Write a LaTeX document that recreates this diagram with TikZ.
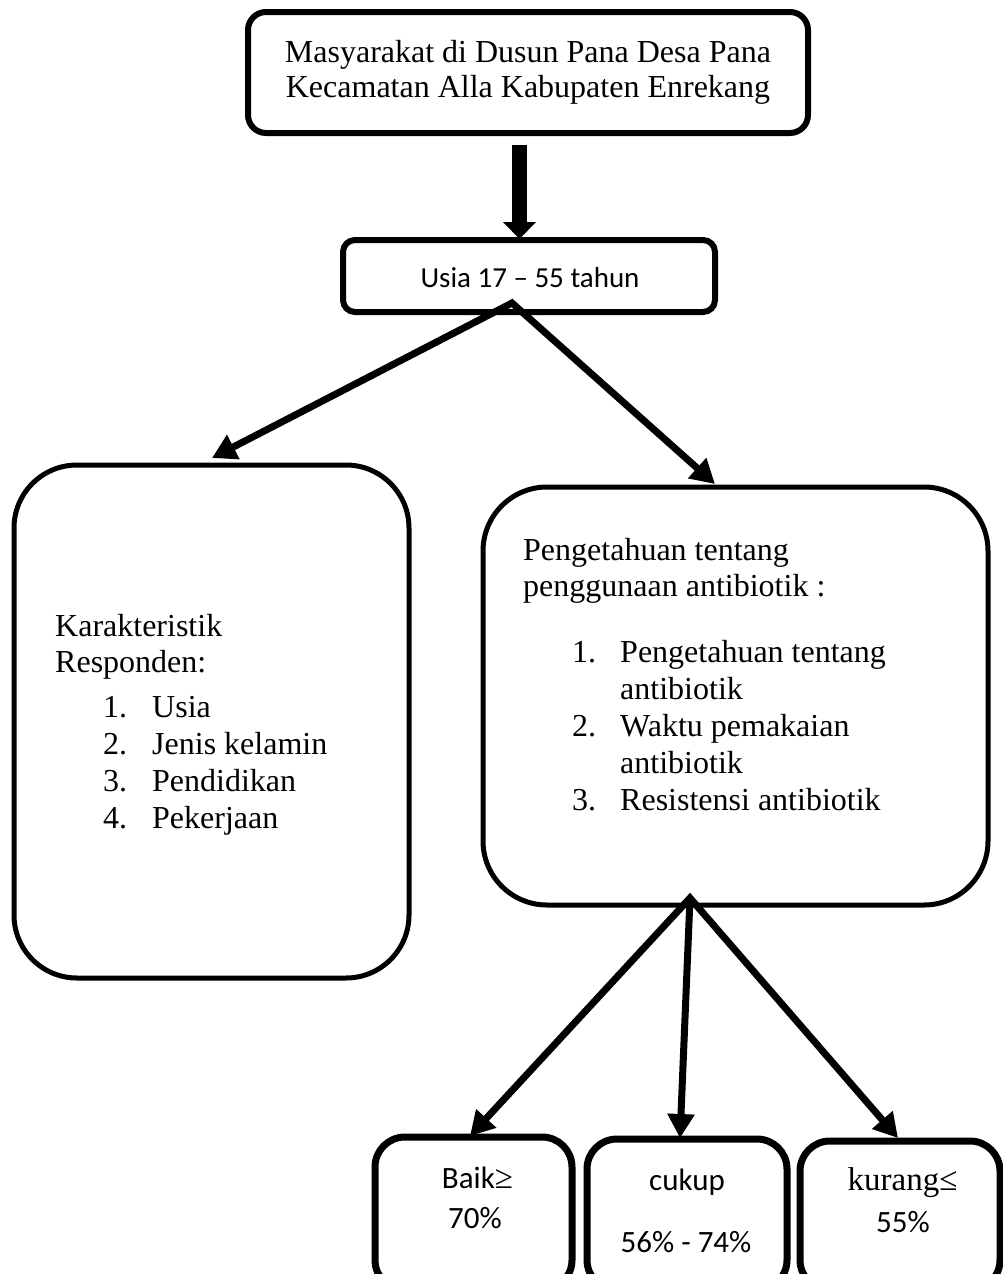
\documentclass[tikz,border=0pt]{standalone}
\usepackage{fontspec}
\setmainfont{Liberation Serif}
\newfontfamily\calibri{Carlito}
\newfontfamily\relfont{Liberation Serif}
\usetikzlibrary{arrows.meta}

\begin{document}
\begin{tikzpicture}[x=1pt,y=-1pt,
  frame/.style={draw=black, line width=#1, inner sep=0pt, outer sep=0pt},
  serif/.style={font=\fontsize{32}{37}\selectfont, inner sep=0pt},
  sans/.style={font=\calibri\fontsize{31}{37}\selectfont, inner sep=0pt},
  bigarrow/.style={line width=15pt, -{Triangle[length=17pt,width=32pt]}},
  link/.style={line width=7pt, line join=miter,
    {Triangle[length=24pt,width=26pt]}-{Triangle[length=24pt,width=26pt]}},
  onelink/.style={line width=7pt, -{Triangle[length=24pt,width=26pt]}}
]
\useasboundingbox (0,0) rectangle (1003,1274);
\clip (0,0) rectangle (1003,1274);

% boxes
\node[frame=6pt, rounded corners=18pt, minimum width=560pt, minimum height=121pt] (top) at (528,72.5) {};
\node[frame=6pt, rounded corners=12pt, minimum width=372pt, minimum height=72pt] (usia) at (529,276) {};
\node[frame=5pt, rounded corners=63pt, minimum width=395pt, minimum height=513pt] (left) at (211.5,721.5) {};
\node[frame=5pt, rounded corners=64pt, minimum width=505pt, minimum height=418pt] (right) at (735.5,696) {};
\node[frame=7pt, rounded corners=30pt, minimum width=197pt, minimum height=153pt] (baik) at (473.5,1213.5) {};
\node[frame=7pt, rounded corners=30pt, minimum width=200pt, minimum height=151pt] (cukup) at (687,1214.5) {};
\node[frame=7pt, rounded corners=30pt, minimum width=200pt, minimum height=149pt] (kurang) at (900,1215.5) {};

% texts
\node[serif, anchor=base] (t1) at (528,62) {Masyarakat di Dusun Pana Desa Pana};
\node[serif, anchor=base] (t2) at (528,97) {Kecamatan Alla Kabupaten Enrekang};
\node[sans, font=\calibri\fontsize{29}{35}\selectfont, anchor=base] (tu) at (530,287) {Usia 17 – 55 tahun};

\node[serif, anchor=base west] (l1) at (55,636) {Karakteristik};
\node[serif, anchor=base west] (l2) at (55,672) {Responden:};
\node[serif, anchor=base west] (ln1) at (103,717) {1.};
\node[serif, anchor=base west] (li1) at (152,717) {Usia};
\node[serif, anchor=base west] (ln2) at (103,754) {2.};
\node[serif, anchor=base west] (li2) at (152,754) {Jenis kelamin};
\node[serif, anchor=base west] (ln3) at (103,791) {3.};
\node[serif, anchor=base west] (li3) at (152,791) {Pendidikan};
\node[serif, anchor=base west] (ln4) at (103,828) {4.};
\node[serif, anchor=base west] (li4) at (152,828) {Pekerjaan};

\node[serif, anchor=base west] (r1) at (523,560) {Pengetahuan tentang};
\node[serif, anchor=base west] (r2) at (523,596) {penggunaan antibiotik :};
\node[serif, anchor=base west] (rn1) at (572,662) {1.};
\node[serif, anchor=base west] (ri1) at (620,662) {Pengetahuan tentang};
\node[serif, anchor=base west] (ri1b) at (620,699) {antibiotik};
\node[serif, anchor=base west] (rn2) at (572,736) {2.};
\node[serif, anchor=base west] (ri2) at (620,736) {Waktu pemakaian};
\node[serif, anchor=base west] (ri2b) at (620,773) {antibiotik};
\node[serif, anchor=base west] (rn3) at (572,810) {3.};
\node[serif, anchor=base west] (ri3) at (620,810) {Resistensi antibiotik};

\node[sans, anchor=base] (b1) at (477.5,1188) {Baik{\relfont\fontsize{33}{37}\selectfont ≥}};
\node[sans, anchor=base] (b2) at (475,1228) {70\%};
\node[sans, anchor=base] (c1) at (687,1190) {cukup};
\node[sans, anchor=base] (c2) at (686,1252) {56\% - 74\%};
\node[serif, font=\fontsize{33}{37}\selectfont, anchor=base] (k1) at (902.5,1190) {kurang≤};
\node[sans, anchor=base] (k2) at (903,1232) {55\%};

% connector end points
\coordinate (downstart) at (519.5,145);
\coordinate (downend) at (519.5,239);
\coordinate (usiafork) at (512,303);
\coordinate (lefttip) at (212,458);
\coordinate (righttip) at (715,484);
\coordinate (rightfork) at (690,898);
\coordinate (baiktip) at (470,1136);
\coordinate (cukuptip) at (680,1138);
\coordinate (kurangtip) at (898,1138);

% connectors
\draw[bigarrow] (downstart) -- (downend);
\draw[link] (lefttip) -- (usiafork) -- (righttip);
\draw[link] (baiktip) -- (rightfork) -- (kurangtip);
\draw[onelink] (rightfork) -- (cukuptip);
\end{tikzpicture}
\end{document}
